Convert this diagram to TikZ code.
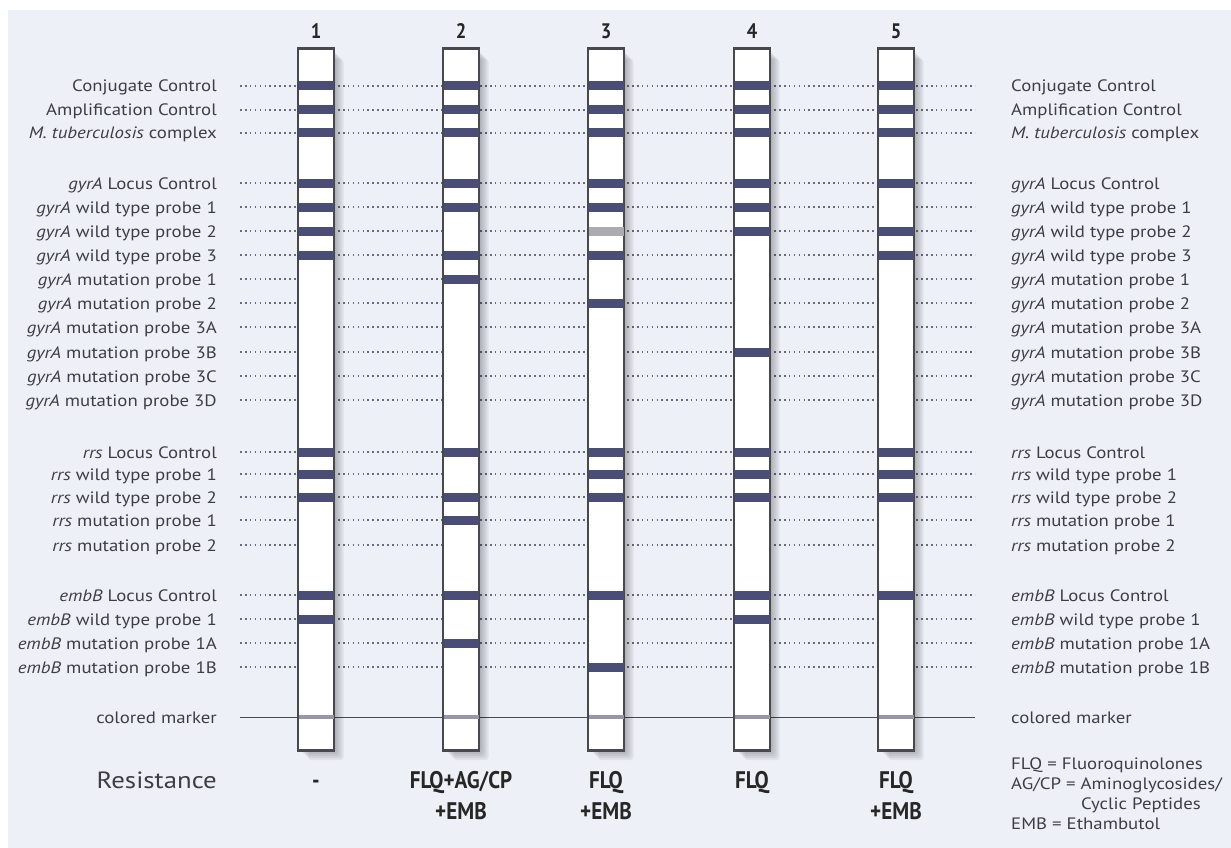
\documentclass[tikz,border=0pt]{standalone}
\usepackage{fontspec}
\setmainfont[FakeStretch=1.14]{PT Sans}
\newfontfamily\resfont[FakeStretch=0.88]{PT Sans Bold}
\definecolor{bgc}{RGB}{237,240,247}
\definecolor{bandc}{RGB}{74,77,118}
\definecolor{faintc}{RGB}{172,172,176}
\definecolor{markc}{RGB}{150,150,168}
\definecolor{txtc}{RGB}{62,62,66}
\definecolor{dotc}{RGB}{105,107,125}
\definecolor{edgec}{RGB}{72,72,78}
\tikzset{
  lab/.style={font=\fontsize{16.5}{20}\selectfont, text=txtc, inner sep=0pt},
  labl/.style={lab, anchor=base east},
  labr/.style={lab, anchor=base west},
  dotline/.style={dotc, line width=1.1pt, dash pattern=on 1.6pt off 3.3pt},
  markline/.style={edgec, line width=1pt},
  shadowlayer/.style={black, opacity=0.06, rounded corners=3pt},
  stripbox/.style={draw=edgec, line width=1.6pt, fill=white, minimum width=35pt,
    minimum height=701pt, inner sep=0pt},
  stripedge/.style={draw=edgec, line width=1.6pt},
  bandbox/.style={fill=bandc, minimum width=35pt, minimum height=9pt, inner sep=0pt},
  faintbox/.style={bandbox, fill=faintc},
  markbox/.style={fill=markc, minimum width=35pt, minimum height=3.5pt, inner sep=0pt},
  num/.style={font=\resfont\fontsize{21}{24}\selectfont, text=black!85, inner sep=0pt},
  res/.style={font=\resfont\fontsize{24}{31}\selectfont, text=black!85, inner sep=0pt, align=center, anchor=north},
  big/.style={font=\fontsize{23.5}{28}\selectfont, text=txtc, inner sep=0pt, anchor=base east},
  legend/.style={lab, anchor=base west},
}
\begin{document}
\begin{tikzpicture}[x=1pt,y=-1pt]
\useasboundingbox (0,0) rectangle (1231,848);
\fill[white] (0,0) rectangle (1231,848);
\fill[bgc] (8,10) rectangle (1231,848);

% rows: labels and dotted lines
\foreach \n/\y/\t in {
  1/86/{Conjugate Control},
  2/110/{Amplification Control},
  3/133/{\textit{M. tuberculosis} complex},
  4/183/{\textit{gyrA} Locus Control},
  5/207/{\textit{gyrA} wild type probe 1},
  6/231/{\textit{gyrA} wild type probe 2},
  7/255/{\textit{gyrA} wild type probe 3},
  8/279/{\textit{gyrA} mutation probe 1},
  9/303/{\textit{gyrA} mutation probe 2},
  10/327/{\textit{gyrA} mutation probe 3A},
  11/352/{\textit{gyrA} mutation probe 3B},
  12/376/{\textit{gyrA} mutation probe 3C},
  13/400/{\textit{gyrA} mutation probe 3D},
  14/452/{\textit{rrs} Locus Control},
  15/474/{\textit{rrs} wild type probe 1},
  16/497/{\textit{rrs} wild type probe 2},
  17/520/{\textit{rrs} mutation probe 1},
  18/545/{\textit{rrs} mutation probe 2},
  19/595/{\textit{embB} Locus Control},
  20/619/{\textit{embB} wild type probe 1},
  21/643/{\textit{embB} mutation probe 1A},
  22/667/{\textit{embB} mutation probe 1B}} {
  \coordinate (row\n) at (0,\y);
  \node[labl] (L\n) at (217,{\y+6}) {\t};
  \node[labr] (R\n) at (1011,{\y+6}) {\t};
  \draw[dotline] (240,\y) -- (975,\y);
}
\coordinate (rowm) at (0,717);
\node[labl] (Lm) at (217,723) {colored marker};
\node[labr] (Rm) at (1011,723) {colored marker};
\draw[markline] (240,717) -- (975,717);

% strips
\foreach \k/\x in {1/316,2/461,3/606,4/752,5/896} {
  \foreach \d in {2,4,6,8,10}
    \fill[shadowlayer] ({\x-17.5+\d},{49+\d}) rectangle ({\x+17.5+\d},{750+\d});
  \node[stripbox] (s\k) at (\x,399.5) {};
  \node[num, anchor=base] (n\k) at (\x,39) {\k};
  \node[markbox] (m\k) at (s\k |- rowm) {};
}

% bands
\foreach \r in {1,2,3,4,5,6,7,14,15,16,19,20} \node[bandbox] at (s1 |- row\r) {};
\foreach \r in {1,2,3,4,5,7,8,14,16,17,19,21} \node[bandbox] at (s2 |- row\r) {};
\foreach \r in {1,2,3,4,5,7,9,14,15,16,19,22} \node[bandbox] at (s3 |- row\r) {};
\node[faintbox] at (s3 |- row6) {};
\foreach \r in {1,2,3,4,5,6,11,14,15,16,19,20} \node[bandbox] at (s4 |- row\r) {};
\foreach \r in {1,2,3,4,6,7,14,15,16,19} \node[bandbox] at (s5 |- row\r) {};

% strip outlines on top
\foreach \k in {1,...,5} \draw[stripedge] (s\k.south west) rectangle (s\k.north east);

% resistance row
\node[big] (resl) at (217,788) {Resistance};
\node[res, anchor=base] (t1) at (316,788) {-};
\node[res] (t2) at (461,771) {FLQ+AG/CP\\+EMB};
\node[res] (t3) at (606,771) {FLQ\\+EMB};
\node[res] (t4) at (752,771) {FLQ};
\node[res] (t5) at (896,771) {FLQ\\+EMB};

% legend
\node[legend] (g1) at (1011,769) {FLQ = Fluoroquinolones};
\node[legend] (g2) at (1011,789) {AG/CP = Aminoglycosides/};
\node[lab, anchor=base east] (g3) at (1201,809) {Cyclic Peptides};
\node[legend] (g4) at (1011,829) {EMB = Ethambutol};
\end{tikzpicture}
\end{document}
